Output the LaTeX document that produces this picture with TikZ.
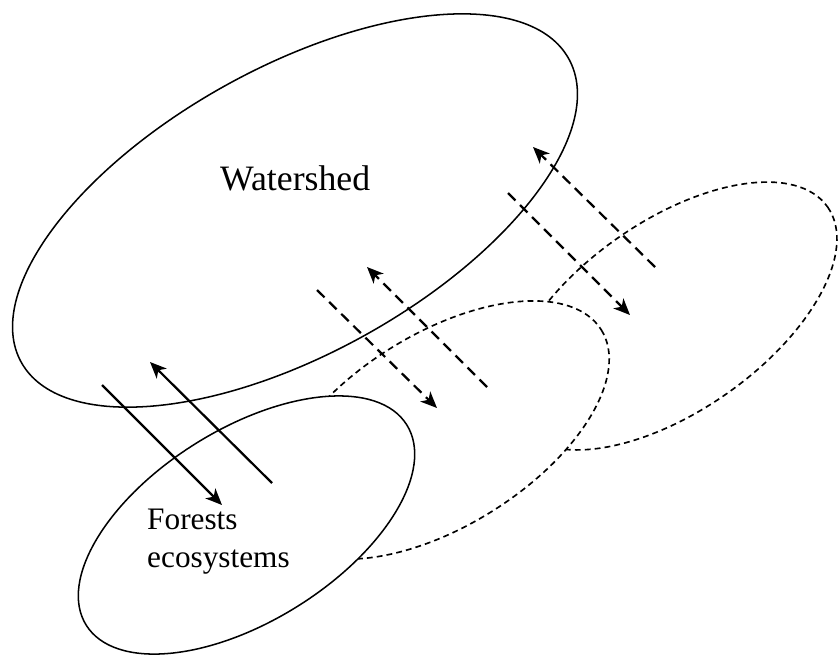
\documentclass[tikz,border=0pt]{standalone}
\usepackage{fontspec}
\setmainfont{Liberation Serif}
\usetikzlibrary{arrows.meta}

\begin{document}
\begin{tikzpicture}[
    x=0.03cm, y=-0.03cm,
    region/.style={draw, line width=1.3pt},
    system/.style={draw, line width=1.4pt, dash pattern=on 5pt off 3.5pt, fill=white},
    flow/.style={-{Stealth[length=14pt, width=12pt, inset=4pt]}, line width=1.9pt},
    dflow/.style={flow, dash pattern=on 9pt off 5.5pt},
    caption/.style={inner sep=0pt, align=left}
]
\useasboundingbox (0,0) rectangle (839,659);

% Other systems (behind)
\draw[system, rotate around={35:(672,316)}] (672,316) ellipse (190 and 95);
\draw[system, rotate around={32:(441,430)}] (441,430) ellipse (189 and 96);

% Forests and watershed
\draw[region, fill=white, rotate around={32:(246.5,525)}] (246.5,525) ellipse (189 and 96);
\draw[region, rotate around={29:(295,210.5)}] (295,210.5) ellipse (313 and 143);

% Arrow ends
\coordinate (in1) at (102,385);  \coordinate (out1) at (222,505);
\coordinate (in2) at (272,483);  \coordinate (out2) at (150,362);
\coordinate (in3) at (317,290);  \coordinate (out3) at (437,408);
\coordinate (in4) at (487,387);  \coordinate (out4) at (367,267);
\coordinate (in5) at (508,193);  \coordinate (out5) at (630,315);
\coordinate (in6) at (655,267);  \coordinate (out6) at (533,147);

% Exchanges
\draw[flow] (in1) -- (out1);
\draw[flow] (in2) -- (out2);
\draw[dflow] (in3) -- (out3);
\draw[dflow] (in4) -- (out4);
\draw[dflow] (in5) -- (out5);
\draw[dflow] (in6) -- (out6);

% Labels
\node[caption, anchor=base west, font=\fontsize{30.5}{36}\selectfont] (watershed) at (220,190) {Watershed};
\node[caption, anchor=north west, font=\fontsize{26.7}{32.4}\selectfont] (forests) at (147,509) {Forests\\ecosystems};

\end{tikzpicture}
\end{document}
